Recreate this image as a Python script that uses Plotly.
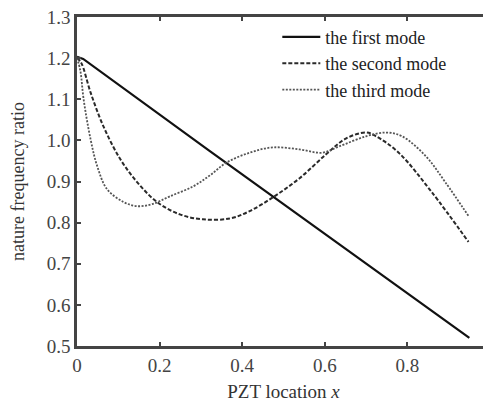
import plotly.graph_objects as go

x_first = [0.0, 0.015, 0.32, 0.95]
y_first = [1.203, 1.198, 0.975, 0.52]

x_second = [0.0, 0.01, 0.033, 0.064, 0.105, 0.146, 0.194, 0.249, 0.305, 0.37, 0.418, 0.478,
            0.539, 0.603, 0.652, 0.70, 0.724, 0.779, 0.859, 0.948]
y_second = [1.2, 1.189, 1.116, 1.034, 0.954, 0.898, 0.85, 0.82, 0.808, 0.81, 0.828, 0.864,
            0.908, 0.966, 1.005, 1.019, 1.01, 0.97, 0.874, 0.753]

x_third = [0.0, 0.008, 0.016, 0.033, 0.049, 0.073, 0.113, 0.145, 0.182, 0.225, 0.281, 0.322,
           0.362, 0.418, 0.474, 0.539, 0.594, 0.634, 0.70, 0.748, 0.787, 0.845, 0.892, 0.948]
y_third = [1.2, 1.17, 1.10, 1.002, 0.937, 0.881, 0.85, 0.84, 0.845, 0.864, 0.888, 0.915,
           0.946, 0.97, 0.983, 0.978, 0.97, 0.985, 1.01, 1.019, 1.01, 0.961, 0.898, 0.816]

x_ticks = [0, 0.2, 0.4, 0.6, 0.8, 1]
x_tick_labels = ["0", "0.2", "0.4", "0.6", "0.8", "1"]
y_ticks = [0.5, 0.6, 0.7, 0.8, 0.9, 1.0, 1.1, 1.2, 1.3]
y_tick_labels = ["0.5", "0.6", "0.7", "0.8", "0.9", "1.0", "1.1", "1.2", "1.3"]

fig = go.Figure()
fig.add_trace(go.Scatter(x=x_first, y=y_first, mode="lines", name="the first mode",
                         line=dict(color="#111111", width=2.2, dash="solid")))
fig.add_trace(go.Scatter(x=x_second, y=y_second, mode="lines", name="the second mode",
                         line=dict(color="#2a2a2a", width=2, dash="4px,2px", shape="spline")))
fig.add_trace(go.Scatter(x=x_third, y=y_third, mode="lines", name="the third mode",
                         line=dict(color="#555555", width=1.8, dash="2px,1.5px", shape="spline")))

font_family = "Liberation Serif, Times New Roman, serif"
axis_common = dict(showline=True, linecolor="#444444", linewidth=2.5, mirror="ticks",
                   ticks="inside", ticklen=4, tickwidth=2, tickcolor="#444444",
                   showgrid=False, zeroline=False, automargin=False,
                   ticklabeloverflow="allow",
                   tickfont=dict(family=font_family, size=19, color="#444444"))

fig.update_layout(
    width=483, height=395,
    margin=dict(l=69, r=1, t=9, b=57),
    paper_bgcolor="white", plot_bgcolor="white",
    font=dict(family=font_family, color="#222222"),
    xaxis=dict(range=[0, 1], tickvals=x_ticks, ticktext=x_tick_labels,
               title=dict(text="PZT location <i>x</i>", font=dict(family=font_family, size=19, color="#333333"),
                          standoff=11),
               **axis_common),
    yaxis=dict(range=[0.5, 1.3], tickvals=y_ticks, ticktext=y_tick_labels,
               title=dict(text="nature frequency ratio", font=dict(family=font_family, size=18, color="#333333"),
                          standoff=22),
               **axis_common),
    legend=dict(x=0.485, y=0.995, xanchor="left", yanchor="top",
                bgcolor="rgba(0,0,0,0)", font=dict(family=font_family, size=18, color="#222222"),
                tracegroupgap=0, itemwidth=38),
    showlegend=True,
)

fig.write_html("out.html")
